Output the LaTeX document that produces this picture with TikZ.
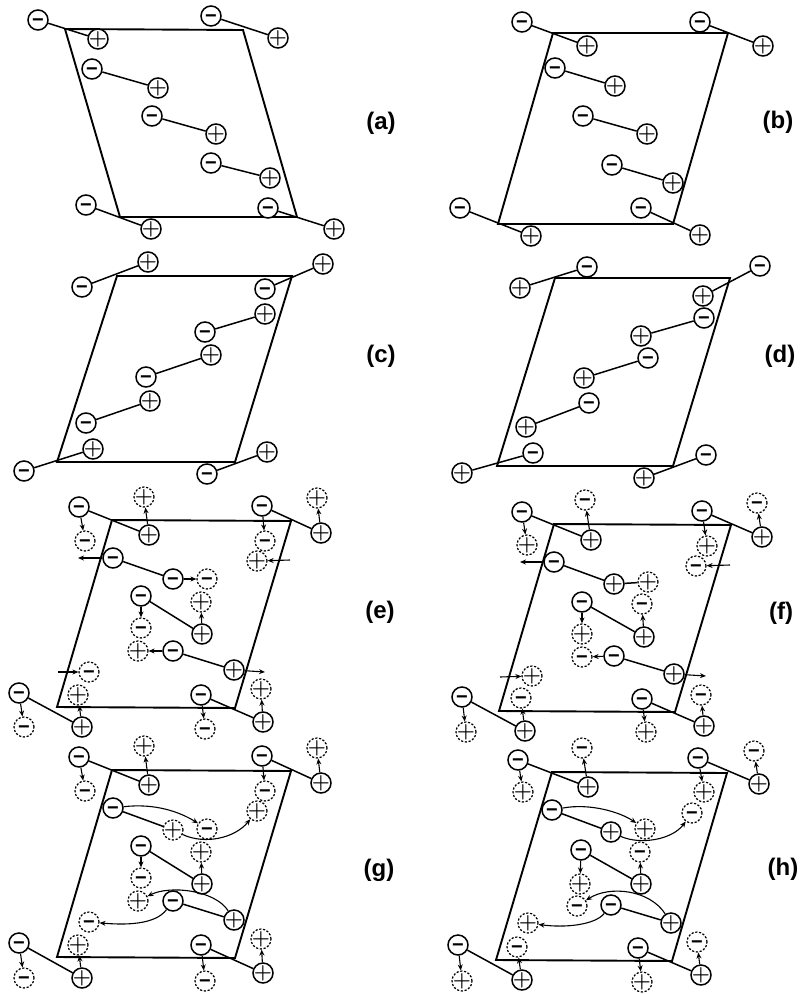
\documentclass[tikz,border=0pt]{standalone}
\usepackage{fontspec}
\setmainfont{Liberation Sans}
\usepackage{tikz}
\usetikzlibrary{arrows.meta}

\begin{document}
\begin{tikzpicture}[x=1pt,y=-1pt]
	\tikzstyle{chg}=[circle,draw,fill=white,inner sep=-6pt,minimum size=20pt,line width=1.5pt]
	\tikzstyle{pchg}=[chg,font=\fontsize{21}{21}\selectfont\boldmath]
	\tikzstyle{nchg}=[chg,text height=13pt,text depth=0pt,font=\fontsize{20}{20}\selectfont\bfseries]
	\tikzstyle{dpchg}=[pchg,line width=1.2pt,dash pattern=on 2.2pt off 1.6pt]
	\tikzstyle{dnchg}=[nchg,line width=1.2pt,dash pattern=on 2.2pt off 1.6pt]
	\tikzstyle{bond}=[line width=1.5pt]
	\tikzstyle{cellbox}=[line width=1.9pt]
	\tikzstyle{mv}=[-{Stealth[length=6pt,width=5pt]},line width=1.1pt]
	\tikzstyle{panel}=[font=\fontsize{24}{24}\selectfont\bfseries]
	\useasboundingbox (0,0) rectangle (805,994);

	% panel a
	\coordinate (aTL) at (65,29); \coordinate (aTR) at (243,30);
	\coordinate (aBR) at (297,217); \coordinate (aBL) at (120,217);
	\draw[cellbox] (aTL) -- (aTR) -- (aBR) -- (aBL) -- cycle;
	\node[nchg] (a1m) at (38,20) {−}; \node[pchg] (a1p) at (98,39) {$+$};
	\node[nchg] (a2m) at (211,16) {−}; \node[pchg] (a2p) at (278,38) {$+$};
	\node[nchg] (a3m) at (92,69) {−}; \node[pchg] (a3p) at (158,88) {$+$};
	\node[nchg] (a4m) at (152,116) {−}; \node[pchg] (a4p) at (216,134) {$+$};
	\node[nchg] (a5m) at (211,163) {−}; \node[pchg] (a5p) at (270,178) {$+$};
	\node[nchg] (a6m) at (268,208) {−}; \node[pchg] (a6p) at (334,229) {$+$};
	\node[nchg] (a7m) at (86,205) {−}; \node[pchg] (a7p) at (151,229) {$+$};
	\draw[bond] (a1m) -- (a1p); \draw[bond] (a2m) -- (a2p); \draw[bond] (a3m) -- (a3p);
	\draw[bond] (a4m) -- (a4p); \draw[bond] (a5m) -- (a5p); \draw[bond] (a6m) -- (a6p);
	\draw[bond] (a7m) -- (a7p);
	\node[panel] (alab) at (381,123) {(a)};

	% panel b
	\coordinate (bTL) at (553,33); \coordinate (bTR) at (728,33);
	\coordinate (bBR) at (673,224); \coordinate (bBL) at (498,224);
	\draw[cellbox] (bTL) -- (bTR) -- (bBR) -- (bBL) -- cycle;
	\node[nchg] (b1m) at (522,22) {−}; \node[pchg] (b1p) at (587,46) {$+$};
	\node[nchg] (b2m) at (700,22) {−}; \node[pchg] (b2p) at (763,46) {$+$};
	\node[nchg] (b3m) at (555,68) {−}; \node[pchg] (b3p) at (615,86) {$+$};
	\node[nchg] (b4m) at (583,116) {−}; \node[pchg] (b4p) at (647,134) {$+$};
	\node[nchg] (b5m) at (612,165) {−}; \node[pchg] (b5p) at (673,183) {$+$};
	\node[nchg] (b6m) at (641,208) {−}; \node[pchg] (b6p) at (700,235) {$+$};
	\node[nchg] (b7m) at (460,208) {−}; \node[pchg] (b7p) at (531,236) {$+$};
	\draw[bond] (b1m) -- (b1p); \draw[bond] (b2m) -- (b2p); \draw[bond] (b3m) -- (b3p);
	\draw[bond] (b4m) -- (b4p); \draw[bond] (b5m) -- (b5p); \draw[bond] (b6m) -- (b6p);
	\draw[bond] (b7m) -- (b7p);
	\node[panel] (blab) at (778,122) {(b)};

	% panel c
	\coordinate (cTL) at (117,276); \coordinate (cTR) at (292,276);
	\coordinate (cBR) at (235,462); \coordinate (cBL) at (57,462);
	\draw[cellbox] (cTL) -- (cTR) -- (cBR) -- (cBL) -- cycle;
	\node[nchg] (c1m) at (82,287) {−}; \node[pchg] (c1p) at (148,262) {$+$};
	\node[nchg] (c2m) at (265,289) {−}; \node[pchg] (c2p) at (323,264) {$+$};
	\node[nchg] (c3m) at (205,332) {−}; \node[pchg] (c3p) at (265,314) {$+$};
	\node[nchg] (c4m) at (146,377) {−}; \node[pchg] (c4p) at (211,355) {$+$};
	\node[nchg] (c5m) at (86,423) {−}; \node[pchg] (c5p) at (150,401) {$+$};
	\node[nchg] (c6m) at (24,471) {−}; \node[pchg] (c6p) at (93,449) {$+$};
	\node[nchg] (c7m) at (207,474) {−}; \node[pchg] (c7p) at (267,452) {$+$};
	\draw[bond] (c1m) -- (c1p); \draw[bond] (c2m) -- (c2p); \draw[bond] (c3m) -- (c3p);
	\draw[bond] (c4m) -- (c4p); \draw[bond] (c5m) -- (c5p); \draw[bond] (c6m) -- (c6p);
	\draw[bond] (c7m) -- (c7p);
	\node[panel] (clab) at (381,356) {(c)};

	% panel d
	\coordinate (dTL) at (555,278); \coordinate (dTR) at (730,278);
	\coordinate (dBR) at (673,466); \coordinate (dBL) at (497,466);
	\draw[cellbox] (dTL) -- (dTR) -- (dBR) -- (dBL) -- cycle;
	\node[pchg] (d1p) at (520,288) {$+$}; \node[nchg] (d1m) at (587,267) {−};
	\node[pchg] (d2p) at (703,296) {$+$}; \node[nchg] (d2m) at (760,266) {−};
	\node[pchg] (d3p) at (641,336) {$+$}; \node[nchg] (d3m) at (704,318) {−};
	\node[pchg] (d4p) at (584,378) {$+$}; \node[nchg] (d4m) at (648,358) {−};
	\node[pchg] (d5p) at (526,427) {$+$}; \node[nchg] (d5m) at (589,403) {−};
	\node[pchg] (d6p) at (462,473) {$+$}; \node[nchg] (d6m) at (533,453) {−};
	\node[pchg] (d7p) at (644,478) {$+$}; \node[nchg] (d7m) at (706,455) {−};
	\draw[bond] (d1p) -- (d1m); \draw[bond] (d2p) -- (d2m); \draw[bond] (d3p) -- (d3m);
	\draw[bond] (d4p) -- (d4m); \draw[bond] (d5p) -- (d5m); \draw[bond] (d6p) -- (d6m);
	\draw[bond] (d7p) -- (d7m);
	\node[panel] (dlab) at (780,356) {(d)};

	% panel e
	\coordinate (eTL) at (112,520); \coordinate (eTR) at (291,521);
	\coordinate (eBR) at (235,708); \coordinate (eBL) at (57,707);
	\draw[cellbox] (eTL) -- (eTR) -- (eBR) -- (eBL) -- cycle;
	\node[dpchg] (e1q) at (144,497) {$+$}; \node[dpchg] (e2q) at (317,498) {$+$};
	\node[dnchg] (e1n) at (85,541) {−}; \node[dnchg] (e2n) at (265,541) {−};
	\node[dpchg] (e3q) at (257,561) {$+$}; \node[dnchg] (e3n) at (207,579) {−};
	\node[dpchg] (e4q) at (201,602) {$+$}; \node[dnchg] (e4n) at (141,628) {−};
	\node[dpchg] (e5q) at (138,651) {$+$}; \node[dnchg] (e5n) at (89,672) {−};
	\node[dpchg] (e6q) at (78,695) {$+$}; \node[dpchg] (e7q) at (261,689) {$+$};
	\node[dnchg] (e6n) at (24,727) {−}; \node[dnchg] (e7n) at (205,729) {−};
	\node[nchg] (e1m) at (79,507) {−}; \node[pchg] (e1p) at (149,535) {$+$};
	\node[nchg] (e2m) at (262,506) {−}; \node[pchg] (e2p) at (321,533) {$+$};
	\node[nchg] (e3m) at (113,558) {−}; \node[nchg] (e3p) at (173,579) {−};
	\node[nchg] (e4m) at (141,596) {−}; \node[pchg] (e4p) at (202,634) {$+$};
	\node[nchg] (e5m) at (173,651) {−}; \node[pchg] (e5p) at (234,670) {$+$};
	\node[nchg] (e6m) at (19,693) {−}; \node[pchg] (e6p) at (82,727) {$+$};
	\node[nchg] (e7m) at (201,695) {−}; \node[pchg] (e7p) at (263,722) {$+$};
	\draw[bond] (e1m) -- (e1p); \draw[bond] (e2m) -- (e2p); \draw[bond] (e3m) -- (e3p);
	\draw[bond] (e4m) -- (e4p); \draw[bond] (e5m) -- (e5p); \draw[bond] (e6m) -- (e6p);
	\draw[bond] (e7m) -- (e7p);
	\coordinate (e3end) at (78,558); \coordinate (e3beg) at (290,560);
	\coordinate (e5end) at (265,672); \coordinate (e5beg) at (58,672);
	\draw[mv] (e1m) -- (e1n); \draw[mv] (e1p) -- (e1q); \draw[mv] (e2m) -- (e2n);
	\draw[mv] (e2p) -- (e2q); \draw[mv] (e3m) -- (e3end); \draw[mv] (e3beg) -- (e3q);
	\draw[mv] (e3p) -- (e3n); \draw[mv] (e4p) -- (e4q); \draw[mv] (e4m) -- (e4n);
	\draw[mv] (e5m) -- (e5q); \draw[mv] (e5p) -- (e5end); \draw[mv] (e5beg) -- (e5n);
	\draw[mv] (e6p) -- (e6q); \draw[mv] (e7p) -- (e7q); \draw[mv] (e6m) -- (e6n);
	\draw[mv] (e7m) -- (e7n);
	\node[panel] (elab) at (380,612) {(e)};

	% panel f
	\coordinate (fTL) at (554,524); \coordinate (fTR) at (731,525);
	\coordinate (fBR) at (675,712); \coordinate (fBL) at (499,711);
	\draw[cellbox] (fTL) -- (fTR) -- (fBR) -- (fBL) -- cycle;
	\node[dnchg] (f1q) at (585,500) {−}; \node[dnchg] (f2q) at (757,503) {−};
	\node[dpchg] (f1n) at (527,545) {$+$}; \node[dpchg] (f2n) at (707,546) {$+$};
	\node[dnchg] (f3q) at (696,566) {−}; \node[dpchg] (f3n) at (648,582) {$+$};
	\node[dnchg] (f4q) at (642,604) {−}; \node[dpchg] (f4n) at (582,634) {$+$};
	\node[dnchg] (f5q) at (582,657) {−}; \node[dpchg] (f5n) at (532,676) {$+$};
	\node[dnchg] (f6q) at (521,698) {−}; \node[dnchg] (f7q) at (701,695) {−};
	\node[dpchg] (f6n) at (466,732) {$+$}; \node[dpchg] (f7n) at (646,732) {$+$};
	\node[nchg] (f1m) at (522,512) {−}; \node[pchg] (f1p) at (591,540) {$+$};
	\node[nchg] (f2m) at (702,511) {−}; \node[pchg] (f2p) at (762,537) {$+$};
	\node[nchg] (f3m) at (554,562) {−}; \node[pchg] (f3p) at (614,584) {$+$};
	\node[nchg] (f4m) at (582,602) {−}; \node[pchg] (f4p) at (644,637) {$+$};
	\node[nchg] (f5m) at (614,656) {−}; \node[pchg] (f5p) at (674,674) {$+$};
	\node[nchg] (f6m) at (462,697) {−}; \node[pchg] (f6p) at (525,731) {$+$};
	\node[nchg] (f7m) at (642,699) {−}; \node[pchg] (f7p) at (704,726) {$+$};
	\draw[bond] (f1m) -- (f1p); \draw[bond] (f2m) -- (f2p); \draw[bond] (f3m) -- (f3p);
	\draw[bond] (f4m) -- (f4p); \draw[bond] (f5m) -- (f5p); \draw[bond] (f6m) -- (f6p);
	\draw[bond] (f7m) -- (f7p);
	\coordinate (f3end) at (520,562); \coordinate (f3beg) at (730,565);
	\coordinate (f5end) at (706,676); \coordinate (f5beg) at (500,677);
	\draw[mv] (f1m) -- (f1n); \draw[mv] (f1p) -- (f1q); \draw[mv] (f2m) -- (f2n);
	\draw[mv] (f2p) -- (f2q); \draw[mv] (f3m) -- (f3end); \draw[mv] (f3beg) -- (f3q);
	\draw[bond] (f3p) -- (f3n); \draw[mv] (f4p) -- (f4q); \draw[mv] (f4m) -- (f4n);
	\draw[mv] (f5m) -- (f5q); \draw[mv] (f5p) -- (f5end); \draw[mv] (f5beg) -- (f5n);
	\draw[mv] (f6p) -- (f6q); \draw[mv] (f7p) -- (f7q); \draw[mv] (f6m) -- (f6n);
	\draw[mv] (f7m) -- (f7n);
	\node[panel] (flab) at (781,613) {(f)};

	% panel g
	\coordinate (gTL) at (112,770); \coordinate (gTR) at (291,771);
	\coordinate (gBR) at (235,958); \coordinate (gBL) at (57,957);
	\draw[cellbox] (gTL) -- (gTR) -- (gBR) -- (gBL) -- cycle;
	\node[dpchg] (g1q) at (144,746) {$+$}; \node[dpchg] (g2q) at (317,748) {$+$};
	\node[dnchg] (g1n) at (85,791) {−}; \node[dnchg] (g2n) at (265,791) {−};
	\node[dpchg] (g3q) at (257,811) {$+$}; \node[dnchg] (g3n) at (207,829) {−};
	\node[dpchg] (g4q) at (201,852) {$+$}; \node[dnchg] (g4n) at (141,878) {−};
	\node[dpchg] (g5q) at (138,901) {$+$}; \node[dnchg] (g5n) at (89,922) {−};
	\node[dpchg] (g6q) at (78,945) {$+$}; \node[dpchg] (g7q) at (261,939) {$+$};
	\node[dnchg] (g6n) at (24,978) {−}; \node[dnchg] (g7n) at (205,981) {−};
	\node[nchg] (g1m) at (79,757) {−}; \node[pchg] (g1p) at (149,785) {$+$};
	\node[nchg] (g2m) at (262,756) {−}; \node[pchg] (g2p) at (321,783) {$+$};
	\node[nchg] (g3m) at (113,808) {−}; \node[dpchg] (g3p) at (173,830) {$+$};
	\node[nchg] (g4m) at (141,846) {−}; \node[pchg] (g4p) at (202,884) {$+$};
	\node[nchg] (g5m) at (173,901) {−}; \node[pchg] (g5p) at (234,920) {$+$};
	\node[nchg] (g6m) at (19,943) {−}; \node[pchg] (g6p) at (82,978) {$+$};
	\node[nchg] (g7m) at (201,945) {−}; \node[pchg] (g7p) at (263,973) {$+$};
	\draw[bond] (g1m) -- (g1p); \draw[bond] (g2m) -- (g2p); \draw[bond] (g3m) -- (g3p);
	\draw[bond] (g4m) -- (g4p); \draw[bond] (g5m) -- (g5p); \draw[bond] (g6m) -- (g6p);
	\draw[bond] (g7m) -- (g7p);
	\draw[mv] (g1m) -- (g1n); \draw[mv] (g1p) -- (g1q); \draw[mv] (g2m) -- (g2n);
	\draw[mv] (g2p) -- (g2q); \draw[mv] (g4p) -- (g4q); \draw[mv] (g4m) -- (g4n);
	\draw[mv] (g6p) -- (g6q); \draw[mv] (g7p) -- (g7q); \draw[mv] (g6m) -- (g6n);
	\draw[mv] (g7m) -- (g7n);
	\draw[mv] (g3m) .. controls (155,803) and (180,812) .. (g3n);
	\draw[mv] (g3p) .. controls (205,845) and (235,838) .. (g3q);
	\draw[mv] (g5p) .. controls (215,890) and (170,885) .. (g5q);
	\draw[mv] (g5m) .. controls (155,925) and (125,925) .. (g5n);
	\node[panel] (glab) at (379,870) {(g)};

	% panel h
	\coordinate (hTL) at (552,772); \coordinate (hTR) at (727,773);
	\coordinate (hBR) at (672,961); \coordinate (hBL) at (496,960);
	\draw[cellbox] (hTL) -- (hTR) -- (hBR) -- (hBL) -- cycle;
	\node[dnchg] (h1q) at (582,748) {−}; \node[dnchg] (h2q) at (754,751) {−};
	\node[dpchg] (h1n) at (523,792) {$+$}; \node[dpchg] (h2n) at (704,792) {$+$};
	\node[dnchg] (h3q) at (692,813) {−}; \node[dpchg] (h3n) at (645,829) {$+$};
	\node[dnchg] (h4q) at (640,852) {−}; \node[dpchg] (h4n) at (580,884) {$+$};
	\node[dnchg] (h5q) at (577,906) {−}; \node[dpchg] (h5n) at (528,923) {$+$};
	\node[dnchg] (h6q) at (517,947) {−}; \node[dnchg] (h7q) at (697,942) {−};
	\node[dpchg] (h6n) at (462,981) {$+$}; \node[dpchg] (h7n) at (642,982) {$+$};
	\node[nchg] (h1m) at (518,760) {−}; \node[pchg] (h1p) at (588,787) {$+$};
	\node[nchg] (h2m) at (698,758) {−}; \node[pchg] (h2p) at (759,784) {$+$};
	\node[nchg] (h3m) at (552,810) {−}; \node[pchg] (h3p) at (611,832) {$+$};
	\node[nchg] (h4m) at (581,850) {−}; \node[pchg] (h4p) at (641,884) {$+$};
	\node[nchg] (h5m) at (611,905) {−}; \node[pchg] (h5p) at (671,923) {$+$};
	\node[nchg] (h6m) at (458,945) {−}; \node[pchg] (h6p) at (522,980) {$+$};
	\node[nchg] (h7m) at (638,948) {−}; \node[pchg] (h7p) at (701,975) {$+$};
	\draw[bond] (h1m) -- (h1p); \draw[bond] (h2m) -- (h2p); \draw[bond] (h3m) -- (h3p);
	\draw[bond] (h4m) -- (h4p); \draw[bond] (h5m) -- (h5p); \draw[bond] (h6m) -- (h6p);
	\draw[bond] (h7m) -- (h7p);
	\draw[mv] (h1m) -- (h1n); \draw[mv] (h1p) -- (h1q); \draw[mv] (h2m) -- (h2n);
	\draw[mv] (h2p) -- (h2q); \draw[mv] (h4p) -- (h4q); \draw[mv] (h4m) -- (h4n);
	\draw[mv] (h6p) -- (h6q); \draw[mv] (h7p) -- (h7q); \draw[mv] (h6m) -- (h6n);
	\draw[mv] (h7m) -- (h7n);
	\draw[mv] (h3m) .. controls (590,803) and (620,812) .. (h3n);
	\draw[mv] (h3p) .. controls (640,845) and (672,840) .. (h3q);
	\draw[mv] (h5p) .. controls (650,890) and (610,885) .. (h5q);
	\draw[mv] (h5m) .. controls (595,925) and (565,928) .. (h5n);
	\node[panel] (hlab) at (783,869) {(h)};
\end{tikzpicture}
\end{document}
